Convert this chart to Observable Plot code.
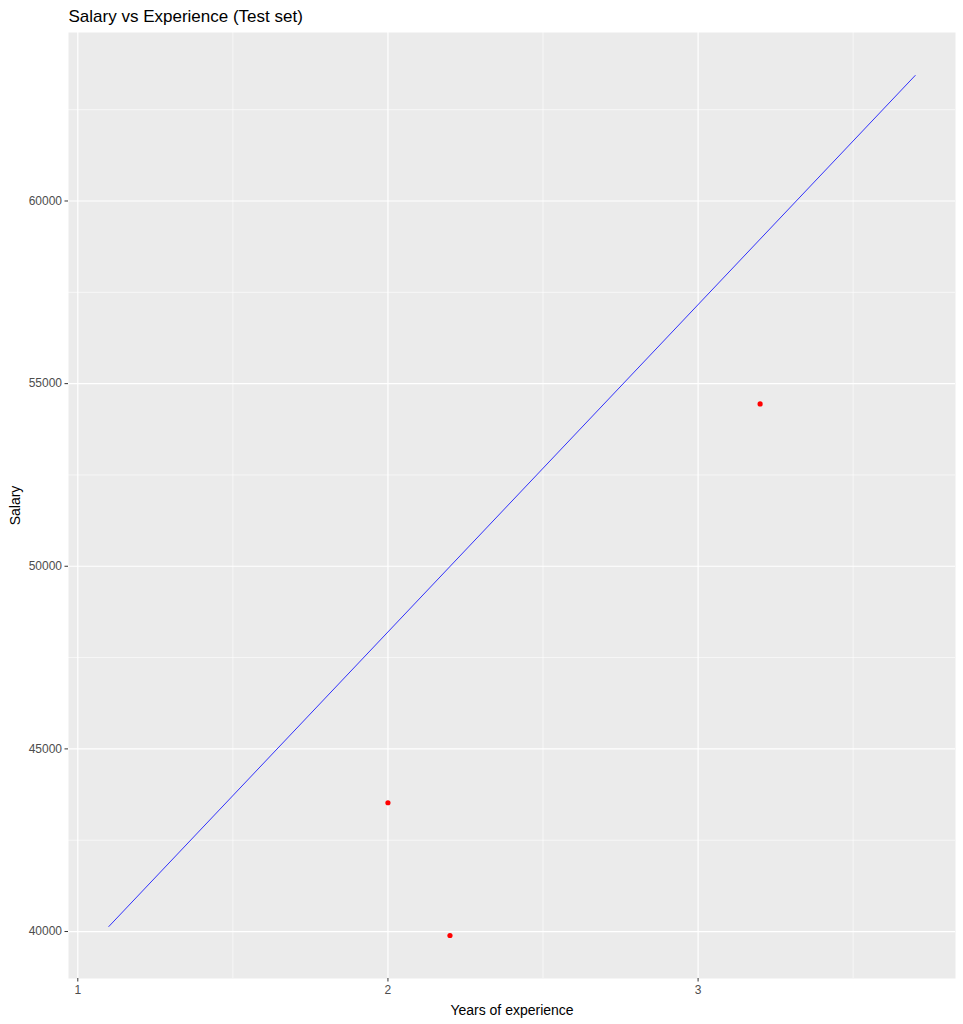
<!DOCTYPE html>
<html>
<head>
<meta charset="utf-8">
<script src="https://cdn.jsdelivr.net/npm/d3@7"></script>
<script src="https://cdn.jsdelivr.net/npm/@observablehq/plot@0.6"></script>
<style>
  html, body { margin: 0; padding: 0; background: #fff; }
  svg { display: block; font-family: "Liberation Sans", Arial, sans-serif; }
</style>
</head>
<body>
<div id="chart"></div>
<script>
// Test-set observations
const yearsTest = [2.0, 2.2, 3.2];
const salaryTest = [43525, 39891, 54445];

// Fitted regression line (endpoints)
const lineYears = [1.1, 3.7];
const lineSalary = [40137, 63436];

// Ticks
const xTicks = [1, 2, 3];
const xMinor = [1.5, 2.5, 3.5];
const yTicks = [40000, 45000, 50000, 55000, 60000];
const yMinor = [42500, 47500, 52500, 57500, 62500];

const titleText = "Salary vs Experience (Test set)";
const xTitle = "Years of experience";
const yTitle = "Salary";

const points = yearsTest.map((x, i) => ({x, y: salaryTest[i]}));
const fit = lineYears.map((x, i) => ({x, y: lineSalary[i]}));

const chart = Plot.plot({
  width: 963,
  height: 1024,
  marginLeft: 68,
  marginRight: 8,
  marginTop: 32,
  marginBottom: 46,
  style: {fontFamily: "'Liberation Sans', Arial, sans-serif", background: "#fff"},
  x: {domain: [0.97, 3.83]},
  y: {domain: [38714, 64613]},
  marks: [
    Plot.frame({fill: "#EBEBEB", stroke: null}),
    Plot.gridX(xMinor, {stroke: "#fff", strokeOpacity: 1, strokeWidth: 0.6}),
    Plot.gridY(yMinor, {stroke: "#fff", strokeOpacity: 1, strokeWidth: 0.6}),
    Plot.gridX(xTicks, {stroke: "#fff", strokeOpacity: 1, strokeWidth: 1.2}),
    Plot.gridY(yTicks, {stroke: "#fff", strokeOpacity: 1, strokeWidth: 1.2}),
    Plot.axisX(xTicks, {label: null, tickSize: 3.5, tickPadding: 3, fontSize: 12, stroke: "#333", fill: "#4D4D4D", tickFormat: d3.format("d")}),
    Plot.axisY(yTicks, {label: null, tickSize: 3.5, tickPadding: 3, fontSize: 12, stroke: "#333", fill: "#4D4D4D", tickFormat: d3.format("d")}),
    Plot.line(fit, {x: "x", y: "y", stroke: "blue", strokeWidth: 0.8}),
    Plot.dot(points, {x: "x", y: "y", r: 2.6, fill: "red", stroke: null}),
    Plot.text([titleText], {frameAnchor: "top-left", dy: -16, textAnchor: "start", lineAnchor: "middle", fontSize: 17, fill: "#000"}),
    Plot.text([xTitle], {frameAnchor: "bottom", dy: 32, lineAnchor: "middle", textAnchor: "middle", fontSize: 14, fill: "#000"}),
    Plot.text([yTitle], {frameAnchor: "left", dx: -53, rotate: -90, textAnchor: "middle", lineAnchor: "middle", fontSize: 14, fill: "#000"})
  ]
});
document.getElementById("chart").appendChild(chart);
</script>
</body>
</html>
